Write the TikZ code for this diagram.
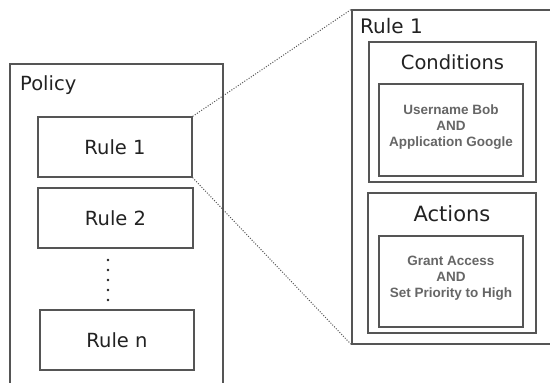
\documentclass[tikz,border=0pt]{standalone}
\usepackage{fontspec}
\setmainfont{DejaVu Sans}
\newfontfamily\boldsans{Liberation Sans}
\definecolor{linegray}{HTML}{555555}
\definecolor{txtgray}{HTML}{222222}
\definecolor{innergray}{HTML}{666666}
\begin{document}
\begin{tikzpicture}[x=1pt,y=-1pt,
  box/.style={draw=linegray, line width=1.3pt, rectangle, inner sep=0pt},
  bigtxt/.style={font=\fontsize{19.5}{22}\selectfont, text=txtgray, inner sep=0pt},
  innertxt/.style={font=\boldsans\bfseries\fontsize{13.5}{16.2}\selectfont, text=innergray, align=center, inner sep=0pt},
  zoomline/.style={draw=linegray, line width=1pt, dash pattern=on 1pt off 1.6pt}]
\clip (0,0) rectangle (550,383);
\fill[white] (0,0) rectangle (550,383);
% left policy box
\node[box, minimum width=213pt, minimum height=340pt] (policy) at (116.5,234) {};
\node[bigtxt, anchor=base west] (policylbl) at (20,90) {Policy};
\node[box, minimum width=154pt, minimum height=60pt] (rule1) at (115,147) {};
\node[bigtxt] (rule1t) at (115,147) {Rule 1};
\node[box, minimum width=155pt, minimum height=60pt] (rule2) at (115.5,218) {};
\node[bigtxt] (rule2t) at (115.5,218) {Rule 2};
\node[box, minimum width=154pt, minimum height=60pt] (rulen) at (117,340) {};
\node[bigtxt] (rulent) at (117,340) {Rule n};
\foreach \yy in {260,270,280,290,300}{\fill[txtgray] (108,\yy) circle (1.4pt);}
% right detail box
\node[box, minimum width=210pt, minimum height=334pt] (big) at (457,177) {};
\node[bigtxt, anchor=base west, font=\fontsize{20}{24}\selectfont] (biglbl) at (360,33) {Rule 1};
\node[box, minimum width=167pt, minimum height=140pt] (cond) at (452.5,112) {};
\node[bigtxt] (condt) at (452.5,62) {Conditions};
\node[box, minimum width=144pt, minimum height=92pt] (condin) at (451,130) {};
\node[innertxt] (condtxt) at (451,127) {Username Bob\\AND\\Application Google};
\node[box, minimum width=168pt, minimum height=140pt] (act) at (452,263) {};
\node[bigtxt, font=\fontsize{21}{24}\selectfont] (actt) at (452,214) {Actions};
\node[box, minimum width=144pt, minimum height=91pt] (actin) at (451,281.5) {};
\node[innertxt] (acttxt) at (451,278) {Grant Access\\AND\\Set Priority to High};
% zoom connectors
\draw[zoomline] (rule1.north east) -- (big.north west);
\draw[zoomline] (rule1.south east) -- (big.south west);
\end{tikzpicture}
\end{document}
